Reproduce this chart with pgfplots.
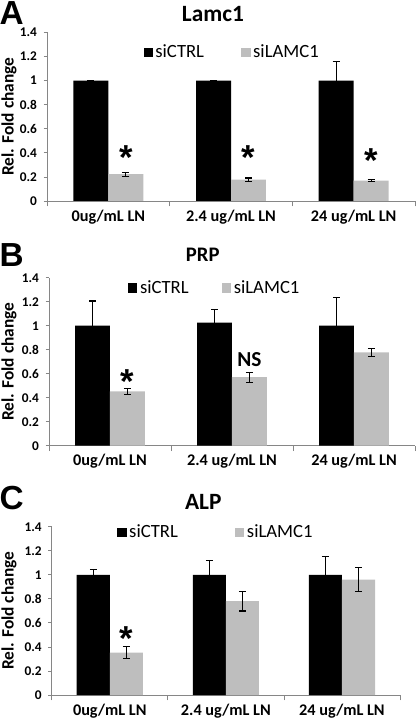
\documentclass[border=0pt]{standalone}
\usepackage{fontspec}
\setmainfont{Carlito}
\newfontfamily\arialb{Liberation Sans}
\usepackage{pgfplots}
\pgfplotsset{compat=1.18}
\definecolor{bargray}{RGB}{190,190,190}
\definecolor{axgray}{RGB}{134,134,134}
\tikzset{sigstar/.style={font=\arialb\bfseries\fontsize{26}{26}\selectfont, anchor=north, inner sep=0pt}}
\pgfplotsset{
  panel/.style={
    scale only axis,
    ymin=0, ymax=1.4, xmin=-0.5, xmax=2.5,
    axis x line=bottom, axis y line=left,
    axis line style={-, draw=axgray, line width=0.6pt},
    ytick={0,0.2,0.4,0.6,0.8,1,1.2,1.4},
    yticklabels={0,0.2,0.4,0.6,0.8,1,1.2,1.4},
    xtick={0,1,2},
    xticklabels={0ug/mL LN, 2.4 ug/mL LN, 24 ug/mL LN},
    minor xtick={-0.5,0.5,1.5,2.5},
    major x tick style={draw=none},
    tick align=outside,
    tick style={draw=axgray, line width=0.6pt},
    major tick length=2.5pt, minor tick length=4pt,
    yticklabel style={font=\bfseries\fontsize{10}{11}\selectfont, xshift=-1.5pt},
    xticklabel style={font=\bfseries\fontsize{12.2}{13}\selectfont, yshift=-0.5pt},
    ylabel={Rel. Fold change},
    ylabel style={font=\bfseries\fontsize{13}{14}\selectfont, anchor=center, rotate=0},
    title style={font=\bfseries\fontsize{17.5}{19}\selectfont, anchor=center},
    legend style={draw=none, fill=none, font=\fontsize{14}{15}\selectfont,
      legend columns=2, anchor=west, inner sep=0pt,
      /tikz/every even column/.append style={column sep=26pt}},
    legend cell align=left,
    error bars/error bar style={line width=0.8pt, black},
    error bars/error mark options={rotate=90, mark size=2.6pt, line width=0.8pt, black},
  },
  ctrl/.style={legend image code/.code={\fill[black] (0pt,-3.4pt) rectangle (6.8pt,3.4pt);},
    ybar, bar width=0.285, bar shift=0pt, fill=black, draw=none,
    error bars/.cd, y dir=both, y explicit},
  lam/.style={legend image code/.code={\fill[bargray] (0pt,-3.4pt) rectangle (6.8pt,3.4pt);},
    ybar, bar width=0.285, bar shift=0pt, fill=bargray, draw=none,
    error bars/.cd, y dir=both, y explicit},
}
\begin{document}
\begin{tikzpicture}
\useasboundingbox (0,0) rectangle (312pt,538.5pt);
% Panel A
\begin{axis}[panel, at={(35.25pt,387.75pt)}, anchor=south west,
  width=276pt, height=126.5pt,
  title={Lamc1}, title style={at={(axis description cs:0.451,1.061)}},
  ylabel style={at={(axis description cs:-0.103,0.5)}},
  legend style={at={(axis description cs:0.262,0.883)}}]
\addplot[ctrl] coordinates {(-0.1425,1) +- (0,0.004) (0.8575,1) +- (0,0.004) (1.8575,1) +- (0,0.155)};
\addplot[lam] coordinates {(0.1425,0.222) +- (0,0.018) (1.1425,0.178) +- (0,0.013) (2.1425,0.17) +- (0,0.005)};
\legend{siCTRL, siLAMC1}
\node[sigstar] at (axis cs:0.1425,0.459) {*};
\node[sigstar] at (axis cs:1.1425,0.459) {*};
\node[sigstar] at (axis cs:2.1425,0.44) {*};
\end{axis}
% Panel B
\begin{axis}[panel, at={(36.75pt,204.2pt)}, anchor=south west,
  width=274.5pt, height=126pt,
  title={PRP}, title style={at={(axis description cs:0.42,1.0875)}, font=\bfseries\fontsize{15.5}{17}\selectfont},
  ylabel style={at={(axis description cs:-0.109,0.5)}},
  legend style={at={(axis description cs:0.216,0.939)}, /tikz/every even column/.append style={column sep=23pt}}]
\addplot[ctrl] coordinates {(-0.1425,1) +- (0,0.206) (0.8575,1.025) +- (0,0.114) (1.8575,1) +- (0,0.233)};
\addplot[lam] coordinates {(0.1425,0.453) +- (0,0.027) (1.1425,0.572) +- (0,0.042) (2.1425,0.778) +- (0,0.033)};
\legend{siCTRL, siLAMC1}
\node[sigstar] at (axis cs:0.1425,0.637) {*};
\node[font=\bfseries\fontsize{16}{16}\selectfont, anchor=north, inner sep=0pt] at (axis cs:1.1425,0.783) {NS};
\end{axis}
% Panel C
\begin{axis}[panel, at={(38.8pt,17.25pt)}, anchor=south west,
  width=261.2pt, height=126.2pt,
  title={ALP}, title style={at={(axis description cs:0.435,1.099)}},
  ylabel style={at={(axis description cs:-0.123,0.5)}},
  legend style={at={(axis description cs:0.188,0.968)}, /tikz/every even column/.append style={column sep=41pt}}]
\addplot[ctrl] coordinates {(-0.1425,1) +- (0,0.046) (0.8575,1) +- (0,0.117) (1.8575,1) +- (0,0.15)};
\addplot[lam] coordinates {(0.1425,0.352) +- (0,0.05) (1.1425,0.782) +- (0,0.083) (2.1425,0.96) +- (0,0.1)};
\legend{siCTRL, siLAMC1}
\node[sigstar] at (axis cs:0.1425,0.568) {*};
\end{axis}
% panel letters
\node[font=\arialb\bfseries\fontsize{25}{25}\selectfont, anchor=base west, inner sep=0pt] at (-0.5pt,519.75pt) {A};
\node[font=\arialb\bfseries\fontsize{25}{25}\selectfont, anchor=base west, inner sep=0pt] at (-0.5pt,338.25pt) {B};
\node[font=\arialb\bfseries\fontsize{25}{25}\selectfont, anchor=base west, inner sep=0pt] at (-0.5pt,156.4pt) {C};
\end{tikzpicture}
\end{document}
